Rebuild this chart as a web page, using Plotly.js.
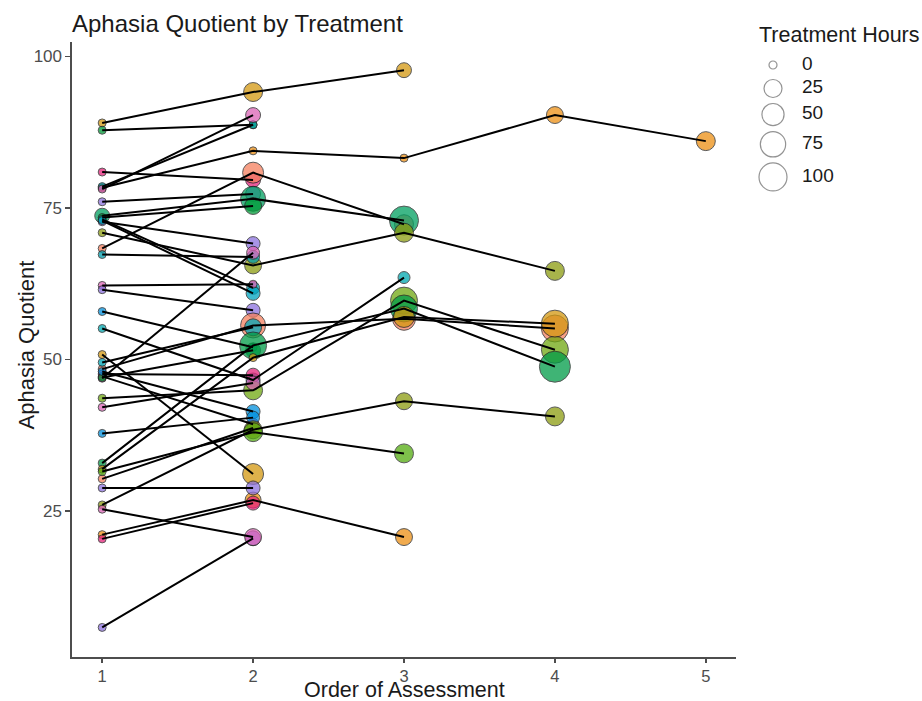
<!DOCTYPE html>
<html>
<head>
<meta charset="utf-8">
<script src="https://cdn.plot.ly/plotly-3.0.1.min.js"></script>
<style>html,body{margin:0;padding:0;background:#fff;}#chart{width:922px;height:701px;}</style>
</head>
<body>
<div id="chart"></div>
<script>
// ---- data (one entry per participant; assessments are in order 1..n) ----
const aqByParticipant = [
  [89.0, 94.1, 97.7],
  [87.8, 88.7],
  [78.3, 84.4, 83.2, 90.3, 86.0],
  [80.9, 79.6],
  [78.5, 88.7],
  [78.1, 90.3],
  [76.0, 77.3],
  [68.3, 80.8, 72.3],
  [73.7, 76.5, 72.9],
  [73.4, 75.3],
  [72.7, 69.1],
  [73.1, 61.8],
  [72.9, 60.9],
  [70.9, 65.5, 70.9, 64.6],
  [67.3, 66.9],
  [46.9, 67.6],
  [62.2, 62.4],
  [61.5, 58.1],
  [57.9, 52.0],
  [55.1, 46.6, 63.5],
  [50.8, 31.1],
  [48.4, 55.6, 56.7, 55.1],
  [49.5, 55.3],
  [47.6, 47.4],
  [47.2, 39.3],
  [47.0, 51.5],
  [48.0, 41.4],
  [37.8, 40.4],
  [43.6, 44.9, 59.7, 51.6],
  [42.1, 46.1],
  [32.9, 52.3, 58.4, 48.8],
  [31.9, 50.3, 57.0, 55.9],
  [30.3, 38.7],
  [26.0, 38.4, 43.1, 40.6],
  [31.5, 38.0, 34.5],
  [5.8, 20.5],
  [25.3, 20.7],
  [21.1, 26.8, 20.7],
  [20.4, 26.3],
  [28.8, 28.8]
];
const hoursByParticipant = [
  [0, 30, 12],
  [0, 0],
  [0, 0, 0, 20, 30],
  [0, 12],
  [0, 0],
  [0, 12],
  [0, 12],
  [0, 42, 30],
  [12, 72, 110],
  [0, 20],
  [0, 9],
  [0, 6],
  [0, 9],
  [0, 20, 30, 30],
  [0, 6],
  [0, 6],
  [0, 0],
  [0, 9],
  [0, 0],
  [0, 9, 4],
  [0, 42],
  [0, 72, 56, 90],
  [0, 20],
  [0, 9],
  [0, 4],
  [0, 12],
  [0, 9],
  [0, 6],
  [0, 30, 90, 90],
  [0, 9],
  [0, 90, 90, 132],
  [0, 0, 42, 90],
  [0, 4],
  [0, 25, 20, 30],
  [0, 30, 30],
  [0, 12],
  [0, 20],
  [0, 16, 20],
  [0, 9],
  [0, 9]
];
const participantColors = [
  "#D39810", "#009B38", "#ED8F13", "#E5237A", "#009CAB", "#DC63B6", "#8B71DE",
  "#F57F5E", "#00A060", "#009B38", "#8B71DE", "#009CAB", "#00A4C0", "#8B9C10",
  "#009CAB", "#DC63B6", "#DC63B6", "#8B71DE", "#0090DD", "#00A8B0", "#D39810",
  "#F57F5E", "#00A8B8", "#E5237A", "#E5237A", "#009B38", "#0090DD", "#0090DD",
  "#6FA810", "#DC63B6", "#009B48", "#D39810", "#F57F5E", "#8B9C10", "#53AB10",
  "#8B71DE", "#DC63B6", "#ED8F13", "#E5237A", "#8B71DE"
];
const legendHours = [0, 25, 50, 75, 100];
const xTicks = [1, 2, 3, 4, 5];
const yTicks = [25, 50, 75, 100];

// ---- helpers ----
const FONT = "Liberation Sans, Arial, Helvetica, sans-serif";
function diameter(h) { return 9 + 2 * Math.sqrt(h); }

// ---- build traces ----
const px = [], py = [], ps = [], pc = [];
const lx = [], ly = [];
aqByParticipant.forEach((vals, i) => {
  vals.forEach((v, j) => {
    px.push(j + 1); py.push(v);
    ps.push(diameter(hoursByParticipant[i][j]) - 1);
    pc.push(participantColors[i]);
    lx.push(j + 1); ly.push(v);
  });
  lx.push(null); ly.push(null);
});

const pointsTrace = {
  type: "scatter", mode: "markers", x: px, y: py, xaxis: "x", yaxis: "y",
  marker: { size: ps, color: pc, opacity: 0.75, line: { color: "#222", width: 1 } },
  hoverinfo: "skip", showlegend: false, cliponaxis: false
};
const linesTrace = {
  type: "scatter", mode: "lines", x: lx, y: ly, xaxis: "x", yaxis: "y",
  line: { color: "#000", width: 2 }, connectgaps: false,
  hoverinfo: "skip", showlegend: false
};

// legend (hidden axes x2/y2, pixel-like units relative to plot top)
const legendDiam = legendHours.map(diameter);
const rowH = legendDiam.map(d => Math.max(d, 18) + 5);
const rowY = [];
let cy = 23;
rowH.forEach((h, i) => { if (i > 0) cy += (rowH[i - 1] + h) / 2; rowY.push(cy); });

const legendMarkers = {
  type: "scatter", mode: "markers", xaxis: "x2", yaxis: "y2",
  x: legendHours.map(() => 33), y: rowY,
  marker: { size: legendDiam.map(d => d - 1), color: "rgba(0,0,0,0)", line: { color: "#666", width: 1.2 } },
  hoverinfo: "skip", showlegend: false, cliponaxis: false
};
const legendLabels = {
  type: "scatter", mode: "text", xaxis: "x2", yaxis: "y2",
  x: legendHours.map(() => 62), y: rowY,
  text: legendHours.map(String), textposition: "middle right",
  textfont: { family: FONT, size: 19, color: "#1a1a1a" },
  hoverinfo: "skip", showlegend: false, cliponaxis: false
};

const plotW = 922 - 72, plotH = 701 - 42 - 44;
const layout = {
  width: 922, height: 701,
  margin: { l: 72, r: 0, t: 42, b: 44, pad: 0 },
  paper_bgcolor: "#fff", plot_bgcolor: "#fff",
  font: { family: FONT, color: "#1a1a1a" },
  showlegend: false, hovermode: false,
  title: {
    text: "Aphasia Quotient by Treatment",
    font: { family: FONT, size: 24, color: "#1a1a1a" },
    x: 72 / 922, xanchor: "left", xref: "container",
    y: 1 - 24 / 701, yanchor: "middle", yref: "container"
  },
  xaxis: {
    domain: [0, 664 / plotW], range: [0.8, 5.2], autorange: false,
    tickvals: xTicks, ticktext: xTicks.map(String),
    ticks: "outside", ticklen: 4, tickwidth: 1.5, tickcolor: "#4d4d4d",
    showline: true, linecolor: "#4d4d4d", linewidth: 1.6,
    showgrid: false, zeroline: false,
    tickfont: { family: FONT, size: 16.5, color: "#4d4d4d" },
    automargin: false, fixedrange: true
  },
  yaxis: {
    range: [0.92, 102.35], autorange: false,
    tickvals: yTicks, ticktext: yTicks.map(String),
    ticks: "outside", ticklen: 5, tickwidth: 1.5, tickcolor: "#4d4d4d",
    showline: true, linecolor: "#4d4d4d", linewidth: 1.6,
    showgrid: false, zeroline: false,
    tickfont: { family: FONT, size: 17, color: "#4d4d4d" },
    automargin: false, fixedrange: true
  },
  xaxis2: { domain: [668 / plotW, 1], range: [0, 182], autorange: false, visible: false, anchor: "y2", fixedrange: true },
  yaxis2: { domain: [0, 1], range: [615, 0], autorange: false, visible: false, anchor: "x2", fixedrange: true },
  annotations: [
    {
      xref: "paper", yref: "paper", x: (757 - 72) / plotW, y: 1 + 7 / plotH,
      xanchor: "left", yanchor: "middle", text: "Treatment Hours", showarrow: false,
      font: { family: FONT, size: 21.5, color: "#1a1a1a" }
    },
    {
      xref: "paper", yref: "paper", x: 332 / plotW, y: -33 / plotH,
      xanchor: "center", yanchor: "middle", text: "Order of Assessment", showarrow: false,
      font: { family: FONT, size: 21.5, color: "#1a1a1a" }
    },
    {
      xref: "paper", yref: "paper", x: -46 / plotW, y: 0.5 + 4 / plotH,
      xanchor: "center", yanchor: "middle", textangle: -90, text: "Aphasia Quotient", showarrow: false,
      font: { family: FONT, size: 22, color: "#1a1a1a" }
    }
  ]
};

Plotly.newPlot("chart", [pointsTrace, linesTrace, legendMarkers, legendLabels], layout,
  { displayModeBar: false, staticPlot: true });
</script>
</body>
</html>
